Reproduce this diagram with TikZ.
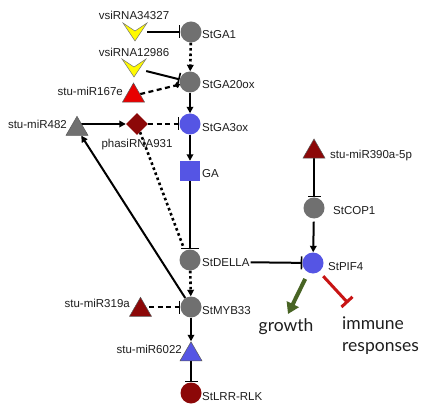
\documentclass[tikz,border=0pt]{standalone}
\usepackage{fontspec}
\setmainfont{Liberation Sans}
\newfontfamily\latofont{Lato}
\usetikzlibrary{shapes.geometric,arrows.meta,calc}
\pgfdeclarelayer{bg}
\pgfsetlayers{bg,main}
\definecolor{ngray}{RGB}{112,112,112}
\definecolor{nblue}{RGB}{85,85,228}
\definecolor{dred}{RGB}{140,8,8}
\definecolor{bred}{RGB}{232,0,0}
\definecolor{nyellow}{RGB}{255,250,0}
\definecolor{ggreen}{RGB}{72,100,36}
\definecolor{rred}{RGB}{200,20,20}
\definecolor{txt}{RGB}{30,30,30}
\begin{document}
\begin{tikzpicture}[x=1pt,y=-1pt,
  circ/.style={circle,minimum size=21pt,inner sep=0pt,fill=#1},
  tri/.style={regular polygon,regular polygon sides=3,minimum size=25.4pt,inner sep=0pt,fill=#1,draw=black!65,line width=0.5pt},
  chev/.style={rectangle,minimum width=24pt,minimum height=18pt,inner sep=0pt},
  chevfill/.style={fill=nyellow,draw=black!55,line width=0.5pt},
  lab/.style={inner sep=0pt,text height=8.3pt,text depth=0pt,text=txt,font=\fontsize{11.5}{13}\selectfont},
  act/.style={line width=2pt,-{Triangle[length=6.5pt,width=6.5pt]}},
  inh/.style={line width=2pt,-{Bar[width=13pt,line width=1.6pt]}},
  dotline/.style={line width=2.6pt,dash pattern=on 2.6pt off 2.8pt},
  dotarr/.style={dotline,-{Triangle[length=6.5pt,width=6.5pt]}},
  dashline/.style={line width=2.2pt,dash pattern=on 5pt off 3.5pt},
  dashinh/.style={dashline,-{Bar[width=13pt,line width=1.6pt]}},
  big/.style={font=\latofont\fontsize{17.5}{21.5}\selectfont,text=txt,inner sep=0pt}
]
\useasboundingbox (0,0) rectangle (435,419);
\begin{pgfonlayer}{bg}
\fill[white] (0,0) rectangle (435,419);
\end{pgfonlayer}

% main column
\node[circ=ngray] (ga1) at (191,32) {};
\node[circ=ngray] (ga20) at (190,82) {};
\node[circ=nblue] (ga3) at (190,124) {};
\node[rectangle,minimum size=20pt,inner sep=0pt,fill=nblue] (GA) at (190,171) {};
\node[circ=ngray] (della) at (190,260) {};
\node[circ=ngray] (myb) at (191,307) {};
\node[tri=nblue] (m6022) at (191,354.5) {};
\node[circ=dred] (lrr) at (191,393) {};

% left side
\node[chev] (v1) at (135,32) {};
\path[chevfill] (v1.center) ++(-12,-9) -- ++(12,8) -- ++(12,-8) -- ++(-12,18) -- cycle;
\node[chev] (v2) at (134,68) {};
\path[chevfill] (v2.center) ++(-12,-9) -- ++(12,8) -- ++(12,-8) -- ++(-12,18) -- cycle;
\node[tri=bred] (m167) at (133.5,95.7) {};
\node[tri=ngray] (m482) at (77,129) {};
\node[diamond,minimum width=22pt,minimum height=22pt,inner sep=0pt,fill=dred] (phasi) at (137,124) {};
\node[tri=dred] (m319) at (140.5,310) {};

% right side
\node[tri=dred] (m390) at (314,151.7) {};
\node[circ=ngray] (cop1) at (314,208) {};
\node[circ=nblue] (pif4) at (313,263) {};

% labels
\node[lab,anchor=west] (lga1) at (202,34) {StGA1};
\node[lab,anchor=west] (lga20) at (202,84) {StGA20ox};
\node[lab,anchor=west] (lga3) at (202,127) {StGA3ox};
\node[lab,anchor=west] (lGA) at (202,173) {GA};
\node[lab,anchor=west] (ldella) at (202,262) {StDELLA};
\node[lab,anchor=west] (lmyb) at (202,310) {StMYB33};
\node[lab,anchor=west] (llrr) at (202,396) {StLRR-RLK};
\node[lab,anchor=west] (lm390) at (330,154) {stu-miR390a-5p};
\node[lab,anchor=west] (lcop1) at (333,210) {StCOP1};
\node[lab,anchor=west] (lpif4) at (328,266) {StPIF4};
\node[lab,anchor=east] (lm167) at (123,91) {stu-miR167e};
\node[lab,anchor=east] (lm482) at (67,124) {stu-miR482};
\node[lab,anchor=east] (lm319) at (130,303) {stu-miR319a};
\node[lab,anchor=east] (lm6022) at (182,349) {stu-miR6022};
\node[lab] (lv1) at (134,15) {vsiRNA34327};
\node[lab] (lv2) at (134,52) {vsiRNA12986};
\node[lab] (lphasi) at (137,143) {phasiRNA931};

\node[big] (growth) at (286,327) {growth};
\node[big,align=left,anchor=north west] (immune) at (342,317) {immune\\responses};

\coordinate (dbar) at (183,246);
\coordinate (gtip) at (288,314);
\coordinate (rtip) at (348,303);

\begin{pgfonlayer}{bg}
\draw[inh] (v1) -- (ga1);
\draw[dotarr] (ga1) -- (ga20);
\draw[inh] (v2) -- (ga20);
\draw[dashline,-{Circle[length=5pt]}] (m167) -- (ga20);
\draw[act] (ga20) -- (ga3);
\draw[act] (phasi -| m482) -- (phasi);
\draw[dashinh] (phasi) -- (ga3);
\draw[dotline] (phasi) -- (dbar);
\draw[act] (ga3) -- (GA);
\draw[line width=2pt,-{Bar[width=18pt,line width=1.6pt]}] (GA) -- (della);
\draw[dotarr] (della) -- (myb);
\draw[act] (myb) -- (m482);
\draw[dashinh] (myb -| m319) -- (myb);
\draw[act] (myb) -- (m6022);
\draw[inh] (m6022) -- (lrr);
\draw[inh] (m390) -- (cop1);
\draw[act,shorten <=3pt] (cop1) -- (pif4);
\draw[inh,shorten <=1pt] (ldella) -- (pif4);
\draw[ggreen,line width=4pt,shorten <=7pt,-{Triangle[length=11pt,width=13pt]}] (pif4) -- (gtip);
\draw[rred,line width=3pt,shorten <=6pt,-{Bar[width=15pt,line width=3pt]}] (pif4.-55) -- (rtip);
\end{pgfonlayer}
\end{tikzpicture}
\end{document}
